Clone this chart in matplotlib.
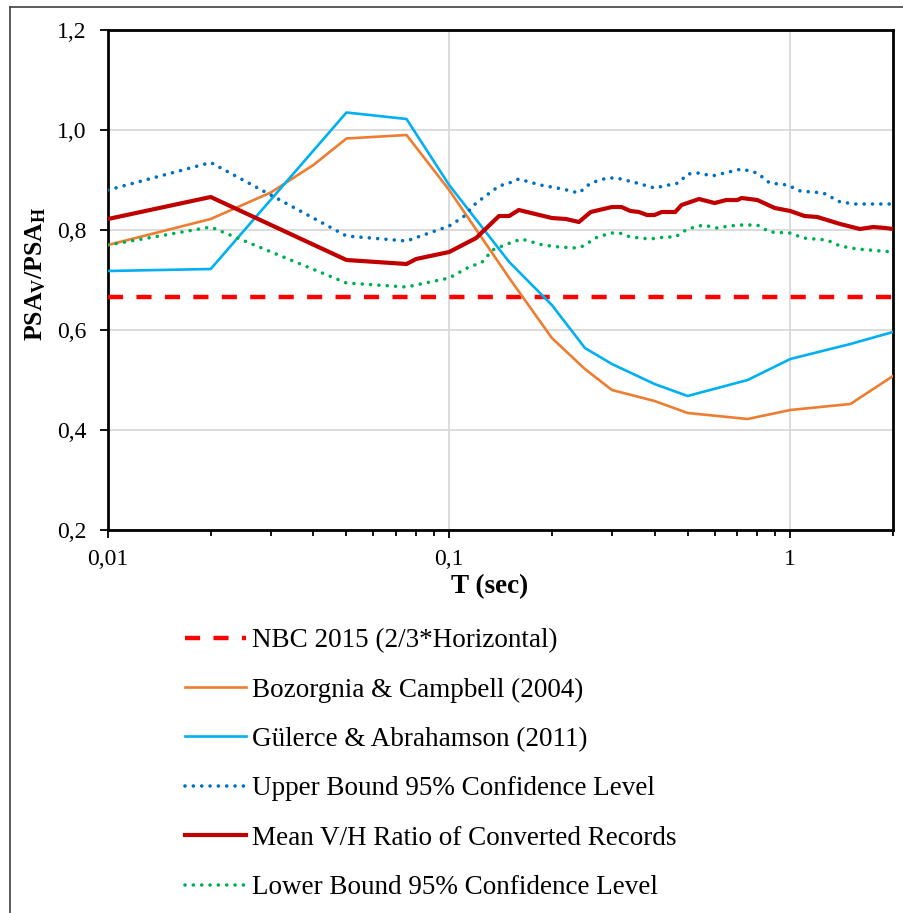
import numpy as np
import matplotlib
matplotlib.use("Agg")
import matplotlib.pyplot as plt
from matplotlib.ticker import FuncFormatter, LogLocator, NullFormatter
from matplotlib.lines import Line2D

plt.rcParams["font.family"] = ["Liberation Serif", "DejaVu Serif"]
plt.rcParams["mathtext.fontset"] = "custom"
plt.rcParams["mathtext.rm"] = "Liberation Serif"
plt.rcParams["mathtext.bf"] = "Liberation Serif:bold"

# NBC 2015
nbc_ratio = 2 / 3

# Bozorgnia & Campbell (2004)
t_bc = [0.01, 0.02, 0.03, 0.04, 0.05, 0.075, 0.1, 0.15, 0.2, 0.25, 0.3, 0.4, 0.5, 0.75, 1.0, 1.5, 2.0]
v_bc = [0.77, 0.822, 0.875, 0.93, 0.983, 0.99, 0.88, 0.704, 0.584, 0.522, 0.48, 0.458, 0.434, 0.422, 0.44, 0.452, 0.508]

# Gülerce & Abrahamson (2011)
t_ga = [0.01, 0.02, 0.05, 0.075, 0.1, 0.15, 0.2, 0.25, 0.3, 0.4, 0.5, 0.75, 1.0, 1.5, 2.0]
v_ga = [0.718, 0.722, 1.035, 1.022, 0.89, 0.736, 0.65, 0.564, 0.532, 0.492, 0.468, 0.5, 0.542, 0.572, 0.596]

# upper bound 95%
t_up = [0.01, 0.02, 0.05, 0.075, 0.1, 0.11, 0.12, 0.14, 0.15, 0.16, 0.185, 0.215, 0.24, 0.26, 0.29, 0.31,
        0.355, 0.4, 0.44, 0.47, 0.5, 0.54, 0.59, 0.66, 0.72, 0.8, 0.87, 0.98, 1.07, 1.25, 1.4, 1.55, 2.0]
v_up = [0.88, 0.935, 0.788, 0.778, 0.808, 0.826, 0.854, 0.888, 0.894, 0.902, 0.89, 0.882, 0.874, 0.894, 0.904, 0.904,
        0.894, 0.884, 0.89, 0.894, 0.912, 0.914, 0.908, 0.916, 0.922, 0.914, 0.894, 0.89, 0.878, 0.874, 0.856, 0.852, 0.852]

# mean V/H ratio
t_mean = [0.01, 0.02, 0.05, 0.075, 0.08, 0.1, 0.12, 0.14, 0.15, 0.16, 0.2, 0.22, 0.24, 0.26, 0.3, 0.32, 0.34, 0.36,
          0.38, 0.4, 0.42, 0.46, 0.48, 0.54, 0.6, 0.65, 0.7, 0.72, 0.8, 0.9, 1.0, 1.1, 1.2, 1.4, 1.6, 1.75, 1.9, 2.0]
v_mean = [0.822, 0.866, 0.74, 0.732, 0.742, 0.756, 0.784, 0.828, 0.828, 0.84, 0.824, 0.822, 0.816, 0.836, 0.846, 0.846,
          0.838, 0.836, 0.83, 0.83, 0.836, 0.836, 0.85, 0.862, 0.854, 0.86, 0.86, 0.864, 0.86, 0.844, 0.838, 0.828,
          0.826, 0.812, 0.802, 0.806, 0.804, 0.802]

# lower bound 95%
t_low = [0.01, 0.02, 0.05, 0.075, 0.1, 0.113, 0.125, 0.134, 0.148, 0.163, 0.188, 0.21, 0.237, 0.247, 0.272, 0.3,
         0.316, 0.34, 0.388, 0.43, 0.46, 0.5, 0.556, 0.61, 0.66, 0.72, 0.8, 0.87, 1.0, 1.09, 1.28, 1.4, 1.57, 2.0]
v_low = [0.77, 0.806, 0.694, 0.686, 0.704, 0.724, 0.736, 0.76, 0.772, 0.782, 0.77, 0.766, 0.764, 0.768, 0.786, 0.794,
         0.794, 0.786, 0.782, 0.786, 0.786, 0.802, 0.81, 0.804, 0.808, 0.81, 0.81, 0.796, 0.794, 0.784, 0.78, 0.768,
         0.762, 0.756]

labels = ["NBC 2015 (2/3*Horizontal)",
          "Bozorgnia & Campbell (2004)",
          "Gülerce & Abrahamson (2011)",
          "Upper Bound 95% Confidence Level",
          "Mean V/H Ratio of Converted Records",
          "Lower Bound 95% Confidence Level"]

W, H = 904, 913
fig = plt.figure(figsize=(W / 100, H / 100), dpi=100)
ax = fig.add_axes([108 / W, 1 - 530 / H, (893 - 108) / W, 500 / H])

dot = (0, (0.01, 2.3))
l_nbc = ax.axhline(nbc_ratio, color="#FF0000", lw=3.2, ls=(0, (3.4, 3.0)), zorder=3)
l_bc, = ax.plot(t_bc, v_bc, color="#ED7D31", lw=1.9, zorder=4)
l_ga, = ax.plot(t_ga, v_ga, color="#00B0F0", lw=1.9, zorder=4)
l_up, = ax.plot(t_up, v_up, color="#0070C0", lw=2.6, ls=dot, dash_capstyle="round", zorder=4)
l_mean, = ax.plot(t_mean, v_mean, color="#C00000", lw=3.0, zorder=5)
l_low, = ax.plot(t_low, v_low, color="#00B050", lw=2.6, ls=dot, dash_capstyle="round", zorder=4)

ax.set_xscale("log")
ax.set_xlim(0.01, 2)
ax.set_ylim(0.2, 1.2)
ax.set_yticks(np.arange(0.2, 1.21, 0.2))
ax.xaxis.set_major_locator(LogLocator(base=10))
ax.xaxis.set_minor_locator(LogLocator(base=10, subs=np.arange(2, 10)))
ax.xaxis.set_minor_formatter(NullFormatter())
ax.xaxis.set_major_formatter(FuncFormatter(lambda v, p: ("%g" % v).replace(".", ",")))
ax.yaxis.set_major_formatter(FuncFormatter(lambda v, p: ("%.1f" % v).replace(".", ",")))
ax.grid(True, which="major", color="#D9D9D9", lw=1.3, zorder=0)
ax.set_axisbelow(True)
for s in ax.spines.values():
    s.set_linewidth(2.0)
ax.tick_params(axis="both", which="major", direction="out", length=5.5, width=1.3, labelsize=17)
ax.tick_params(axis="y", which="major", pad=10)
ax.tick_params(axis="x", which="minor", direction="out", length=4, width=1.3)
ax.tick_params(axis="x", which="major", pad=8)

fig.text(490 / W, 1 - 587 / H, "T (sec)", ha="center", va="center", fontsize=19.5, fontweight="bold")
fig.text(36 / W, 1 - 274 / H, r"$\mathbf{PSA_V/PSA_H}$", ha="center", va="center", fontsize=18.5, rotation=90)

handles = [l_nbc, l_bc, l_ga, l_up, l_mean, l_low]
fig.legend(handles, labels, loc="upper left", bbox_to_anchor=(185 / W, 1 - 628 / H), frameon=False,
           fontsize=19.5, handlelength=2.26, handletextpad=0.22, labelspacing=0.9, borderpad=0, borderaxespad=0)

# outer frame of the original chart area
fig.add_artist(Line2D([10 / W, 10 / W], [0, 1 - 7 / H], color="#404040", lw=1.2))
fig.add_artist(Line2D([10 / W, 1], [1 - 7 / H, 1 - 7 / H], color="#404040", lw=1.2))

fig.savefig("out.png", dpi=100)
